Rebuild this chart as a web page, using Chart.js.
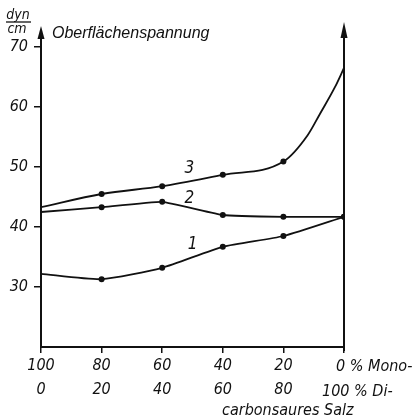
<!DOCTYPE html>
<html>
<head>
<meta charset="utf-8">
<script src="https://cdn.jsdelivr.net/npm/chart.js@4/dist/chart.umd.min.js"></script>
<style>
html,body{margin:0;padding:0;background:#fff;}
#wrap{width:418px;height:417px;}
</style>
</head>
<body>
<div id="wrap"><canvas id="c" width="418" height="417"></canvas></div>
<script>
// Data (x = % Mono-carbonsaures Salz; Di- = 100 - x)
const monoPct = [100, 80, 60, 40, 20, 0];
const yTicks = [30, 40, 50, 60, 70];
const series1 = [32.2, 31.3, 33.2, 36.7, 38.5, 41.7];
const series2 = [42.5, 43.3, 44.2, 42.0, 41.7, 41.7];
const series3X = [100, 80, 60, 40, 20, 12, 8, 3, 0];
const series3 = [43.3, 45.5, 46.8, 48.7, 50.9, 55.3, 58.8, 63.3, 66.5];
const curveNames = ['1', '2', '3'];
const curveLabelX = [50, 51, 51];
const curveLabelY = [37.0, 44.8, 49.8];
const title = 'Oberflächenspannung';
const unitTop = 'dyn', unitBottom = 'cm';
const lastLabel = ['0 % Mono-', '100 % Di-', 'carbonsaures Salz'];

const INK = '#111';
const FAM = '"DejaVu Sans Condensed", "DejaVu Sans", sans-serif';
const NUMFONT = 'italic 16px ' + FAM;

const pts = (xs, ys) => xs.map((x, i) => ({x, y: ys[i]}));
const radii = (xs, endDot) => xs.map(x => (x === 100 || (x === 0 && !endDot) || (x !== 0 && x < 20)) ? 0 : 3);

const deco = {
  id: 'deco',
  afterDraw(chart) {
    const ctx = chart.ctx, a = chart.chartArea;
    const xs = chart.scales.x, ys = chart.scales.y;
    ctx.save();
    ctx.strokeStyle = INK; ctx.fillStyle = INK; ctx.lineWidth = 2;
    // left axis extension + arrow
    ctx.beginPath(); ctx.moveTo(a.left, a.top); ctx.lineTo(a.left, 36); ctx.stroke();
    ctx.beginPath(); ctx.moveTo(a.left, 26); ctx.lineTo(a.left - 3.5, 39); ctx.lineTo(a.left + 3.5, 39); ctx.closePath(); ctx.fill();
    // right axis line + arrow
    ctx.beginPath(); ctx.moveTo(a.right, a.bottom + 4); ctx.lineTo(a.right, 32); ctx.stroke();
    ctx.beginPath(); ctx.moveTo(a.right, 22); ctx.lineTo(a.right - 3.5, 38); ctx.lineTo(a.right + 3.5, 38); ctx.closePath(); ctx.fill();
    // title
    ctx.font = 'italic 16px "Liberation Sans", sans-serif';
    ctx.textAlign = 'left'; ctx.textBaseline = 'alphabetic';
    ctx.fillText(title, 52, 38);
    // unit fraction
    ctx.font = 'italic 14px ' + FAM;
    ctx.textAlign = 'center';
    ctx.fillText(unitTop, 18, 19);
    ctx.lineWidth = 1.3;
    ctx.beginPath(); ctx.moveTo(6, 22); ctx.lineTo(31, 22); ctx.stroke();
    ctx.fillText(unitBottom, 17, 33);
    // last x label
    ctx.font = NUMFONT;
    ctx.textAlign = 'left';
    ctx.fillText(lastLabel[0], 336, 371);
    ctx.fillText(lastLabel[1], 322, 396);
    ctx.fillText(lastLabel[2], 222, 415);
    // curve numbers
    ctx.font = 'italic 17px ' + FAM;
    ctx.textAlign = 'center'; ctx.textBaseline = 'middle';
    curveNames.forEach((n, i) => {
      ctx.fillText(n, xs.getPixelForValue(curveLabelX[i]), ys.getPixelForValue(curveLabelY[i]));
    });
    ctx.restore();
  }
};

new Chart(document.getElementById('c'), {
  type: 'line',
  data: {
    datasets: [
      {label: '1', data: pts(monoPct, series1), pointRadius: radii(monoPct, true), tension: 0.2},
      {label: '2', data: pts(monoPct, series2), pointRadius: radii(monoPct, true), tension: 0.1},
      {label: '3', data: pts(series3X, series3), pointRadius: radii(series3X, false), cubicInterpolationMode: 'monotone'}
    ].map(d => Object.assign({
      borderColor: INK, backgroundColor: INK, pointBackgroundColor: INK,
      pointBorderWidth: 0, borderWidth: 1.8, fill: false
    }, d))
  },
  options: {
    responsive: false,
    animation: false,
    events: [],
    layout: {padding: {top: 41, right: 74, left: 0, bottom: 0}},
    plugins: {legend: {display: false}, tooltip: {enabled: false}},
    scales: {
      x: {
        type: 'linear', reverse: true, min: 0, max: 100,
        afterBuildTicks: s => { s.ticks = monoPct.map(v => ({value: v})); },
        afterFit: s => { s.height = 70; },
        grid: {display: true, drawOnChartArea: false, drawTicks: true, tickLength: 6, color: INK, lineWidth: 1.5},
        border: {display: true, color: INK, width: 2},
        ticks: {
          color: INK, padding: 0, maxRotation: 0, autoSkip: false,
          font: {family: FAM, size: 16, style: 'italic', lineHeight: 1.55},
          callback: v => v === 0 ? '' : [String(v), String(100 - v)]
        }
      },
      y: {
        min: 20, max: 71,
        afterBuildTicks: s => { s.ticks = yTicks.map(v => ({value: v})); },
        afterFit: s => { s.width = 41; },
        grid: {display: true, drawOnChartArea: false, drawTicks: true, tickLength: 7, color: INK, lineWidth: 1.5},
        border: {display: true, color: INK, width: 2},
        ticks: {
          color: INK, padding: 6,
          font: {family: FAM, size: 16, style: 'italic'},
          callback: v => String(v)
        }
      }
    }
  },
  plugins: [deco]
});
</script>
</body>
</html>
